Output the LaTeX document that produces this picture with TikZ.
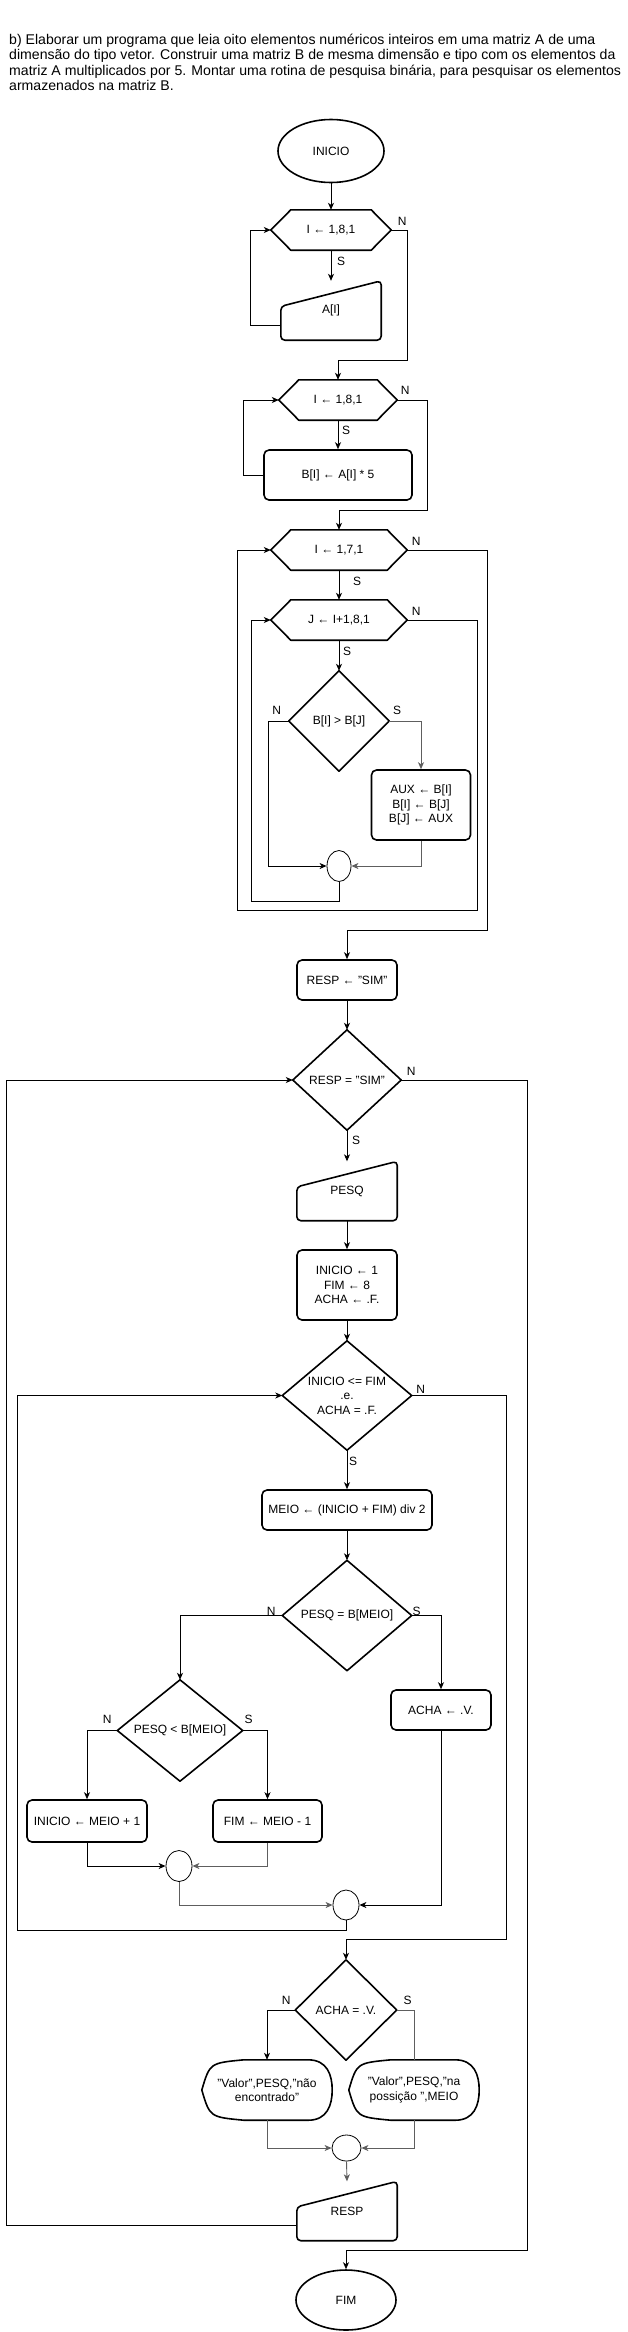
\documentclass[tikz,border=0pt]{standalone}
\usepackage{fontspec}
\setmainfont{Liberation Sans}
\usetikzlibrary{shapes.geometric,arrows.meta,calc}
\definecolor{linkgray}{HTML}{5E5E5E}
\tikzset{
  shapeline/.style={line width=1.6pt, line join=round},
  link/.style={line width=0.9pt, -{Stealth[length=7pt,width=6pt,inset=2pt]}},
  plain/.style={line width=0.9pt},
  cinza/.style={draw=linkgray},
  proc/.style={draw, shapeline, rounded corners=5pt, minimum width=100, minimum height=40, inner sep=2pt, align=center},
  hexa/.style={minimum height=40, inner sep=0pt},
  manual/.style={minimum width=100, minimum height=59, inner sep=0pt},
  tela/.style={minimum width=130, minimum height=60, inner sep=0pt, align=center},
  decisao/.style={inner sep=0pt, align=center},
  terminal/.style={draw, shapeline, ellipse, minimum width=100, minimum height=60, inner sep=0pt},
  juncao/.style={draw, line width=0.8pt, ellipse, minimum width=24, minimum height=31, inner sep=0pt},
  lbl/.style={inner sep=0pt}
}
\begin{document}
\begin{tikzpicture}[x=1pt, y=-1pt, font=\fontsize{12}{14.5}\selectfont]
\path[use as bounding box, fill=white] (0,0) rectangle (628,2332);
% enunciado
\node[anchor=north west, inner sep=0pt, align=left, font=\fontsize{14.1}{15.4}\selectfont] (enunciado) at (9,34)
  {b) Elaborar um programa que leia oito elementos numéricos inteiros em uma matriz A de uma\\
   dimensão do tipo vetor. Construir uma matriz B de mesma dimensão e tipo com os elementos da\\
   matriz A multiplicados por 5. Montar uma rotina de pesquisa binária, para pesquisar os elementos\\
   armazenados na matriz B.};

% leitura de A e calculo de B
\node[terminal, minimum width=106, minimum height=63] (inicio) at (331,151) {INICIO};
\node[hexa, minimum width=120] (laco1) at (331,230) {I ← 1,8,1};
\node[manual] (lerA) at (331,310.5) {A[I]};
\node[hexa, minimum width=118] (laco2) at (338,400) {I ← 1,8,1};
\node[proc, minimum width=148, minimum height=50] (calcB) at (338,475) {B[I] ← A[I] * 5};

% ordenacao
\node[hexa, minimum width=136] (laco3) at (339,550) {I ← 1,7,1};
\node[hexa, minimum width=136] (laco4) at (339,620) {J ← I+1,8,1};
\node[decisao, minimum width=100, minimum height=100] (compara) at (339,721) {B[I] > B[J]};
\node[proc, minimum width=99, minimum height=70] (troca) at (421,805) {AUX ← B[I]\\B[I] ← B[J]\\B[J] ← AUX};
\node[juncao] (junta1) at (339,866) {};

% pesquisa binaria
\node[proc] (atribResp) at (347,980) {RESP ← "SIM"};
\node[decisao, minimum width=108, minimum height=100] (testaResp) at (347,1080) {RESP = "SIM"};
\node[manual] (lerPesq) at (347,1191) {PESQ};
\node[proc, minimum height=70] (inicia) at (347,1285) {INICIO ← 1\\FIM ← 8\\ACHA ← .F.};
\node[decisao, minimum width=129, minimum height=109] (testaBusca) at (347,1395.5) {INICIO <= FIM\\.e.\\ACHA = .F.};
\node[proc, minimum width=170] (meio) at (347,1510) {MEIO ← (INICIO + FIM) div 2};
\node[decisao, minimum width=129, minimum height=110] (testaIgual) at (347,1615.5) {PESQ = B[MEIO]};
\node[decisao, minimum width=125, minimum height=101] (testaMenor) at (180,1730.5) {PESQ < B[MEIO]};
\node[proc] (achaV) at (441,1710) {ACHA ← .V.};
\node[proc, minimum width=120, minimum height=42] (novoInicio) at (87,1821) {INICIO ← MEIO + 1};
\node[proc, minimum width=109, minimum height=42] (novoFim) at (267.5,1821) {FIM ← MEIO - 1};
\node[juncao, minimum width=26] (junta2) at (179,1866) {};
\node[juncao, minimum width=26, minimum height=30] (junta3) at (346,1905) {};
\node[decisao, minimum width=101, minimum height=100] (testaAcha) at (346,2010) {ACHA = .V.};
\node[tela] (msgNao) at (267,2090) {"Valor",PESQ,"não\\encontrado"};
\node[tela] (msgSim) at (414,2090) {"Valor",PESQ,"na\\possição ",MEIO};
\node[juncao, minimum width=29, minimum height=26] (junta4) at (346.5,2148) {};
\node[manual] (mostraResp) at (347,2211) {RESP};
\node[terminal] (fim) at (346,2300) {FIM};

% contornos
\foreach \n in {laco1,laco2,laco3,laco4}
  \draw[shapeline] (\n.west) -- ([xshift=20pt]\n.north west) -- ([xshift=-20pt]\n.north east) -- (\n.east)
    -- ([xshift=-20pt]\n.south east) -- ([xshift=20pt]\n.south west) -- cycle;
\foreach \n in {compara,testaResp,testaBusca,testaIgual,testaMenor,testaAcha}
  \draw[shapeline] (\n.north) -- (\n.east) -- (\n.south) -- (\n.west) -- cycle;
\foreach \n in {lerA,lerPesq,mostraResp}
  \draw[shapeline, rounded corners=4pt] (\n.south west) -- ($(\n.north west)!0.43!(\n.south west)$)
    -- (\n.north east) -- (\n.south east) -- cycle;
\foreach \n in {msgNao,msgSim}
  \draw[shapeline] (\n.west) .. controls ([shift={(8,-27)}]\n.west) .. ([xshift=42pt]\n.north west)
    -- ([xshift=-24pt]\n.north east) .. controls ([xshift=-5pt]\n.north east) and ([shift={(0,-15)}]\n.east) .. (\n.east)
    .. controls ([shift={(0,15)}]\n.east) and ([xshift=-5pt]\n.south east) .. ([xshift=-24pt]\n.south east)
    -- ([xshift=42pt]\n.south west) .. controls ([shift={(8,27)}]\n.west) .. (\n.west) -- cycle;

% ligacoes
\draw[link] (inicio.south) -- (laco1.north);
\draw[link] (laco1.south) -- (lerA.north);
\draw[link] ($(lerA.west)!0.5!(lerA.south west)$) -- ++(-30,0) |- (laco1.west);
\draw[link] (laco1.east) -- ++(16,0) -- ++(0,130) -| (laco2.north);
\draw[link] (laco2.south) -- (calcB.north);
\draw[link] (calcB.west) -- ++(-20,0) |- (laco2.west);
\draw[link] (laco2.east) -- ++(30,0) -- ++(0,110) -| (laco3.north);
\draw[link] (laco3.south) -- (laco4.north);
\draw[link] (laco4.south) -- (compara.north);
\draw[link] (compara.west) -- ++(-20,0) |- (junta1.west);
\draw[link,cinza] (compara.east) -| (troca.north);
\draw[link,cinza] (troca.south) |- (junta1.east);
\draw[link] (junta1.south) -- ++(0,20) -- ++(-88,0) |- (laco4.west);
\draw[link] (laco4.east) -- ++(70,0) -- ++(0,290) -- ++(-240,0) |- (laco3.west);
\draw[link] (laco3.east) -- ++(80,0) -- ++(0,380) -| (atribResp.north);
\draw[link] (atribResp.south) -- (testaResp.north);
\draw[link] (testaResp.south) -- (lerPesq.north);
\draw[link] (lerPesq.south) -- (inicia.north);
\draw[link] (inicia.south) -- (testaBusca.north);
\draw[link] (testaBusca.south) -- (meio.north);
\draw[link] (meio.south) -- (testaIgual.north);
\draw[link] (testaIgual.west) -| (testaMenor.north);
\draw[link] (testaIgual.east) -| (achaV.north);
\draw[link] (testaMenor.west) -| (novoInicio.north);
\draw[link] (testaMenor.east) -| (novoFim.north);
\draw[link] (novoInicio.south) |- (junta2.west);
\draw[link,cinza] (novoFim.south) |- (junta2.east);
\draw[link,cinza] (junta2.south) |- (junta3.west);
\draw[link] (achaV.south) |- (junta3.east);
\draw[link] (junta3.south) -- ++(0,10) -- ++(-329,0) |- (testaBusca.west);
\draw[link] (testaBusca.east) -- ++(95,0) -- ++(0,544) -| (testaAcha.north);
\draw[link] (testaAcha.west) -| (msgNao.north);
\draw[plain,cinza] (testaAcha.east) -| (msgSim.north);
\draw[link,cinza] (msgNao.south) |- (junta4.west);
\draw[link,cinza] (msgSim.south) |- (junta4.east);
\draw[link,cinza] (junta4.south) -- (mostraResp.north);
\draw[link] ($(mostraResp.west)!0.5!(mostraResp.south west)$) -- ++(-290,0) |- (testaResp.west);
\draw[link] (testaResp.east) -- ++(126,0) -- ++(0,1170) -| (fim.north);

% rotulos S / N
\node[lbl] (n1) at ([shift={(11,-9)}]laco1.east) {N};
\node[lbl] (s1) at ([shift={(10,11)}]laco1.south) {S};
\node[lbl] (n2) at ([shift={(8,-10)}]laco2.east) {N};
\node[lbl] (s2) at ([shift={(8,10)}]laco2.south) {S};
\node[lbl] (n3) at ([shift={(9,-9)}]laco3.east) {N};
\node[lbl] (s3) at ([shift={(18,11)}]laco3.south) {S};
\node[lbl] (n4) at ([shift={(9,-9)}]laco4.east) {N};
\node[lbl] (s4) at ([shift={(8,11)}]laco4.south) {S};
\node[lbl] (n5) at ([shift={(-12,-11)}]compara.west) {N};
\node[lbl] (s5) at ([shift={(8,-11)}]compara.east) {S};
\node[lbl] (n6) at ([shift={(10,-9)}]testaResp.east) {N};
\node[lbl] (s6) at ([shift={(9,10)}]testaResp.south) {S};
\node[lbl] (n7) at ([shift={(9,-6)}]testaBusca.east) {N};
\node[lbl] (s7) at ([shift={(6,11)}]testaBusca.south) {S};
\node[lbl] (n8) at ([shift={(-11,-4)}]testaIgual.west) {N};
\node[lbl] (s8) at ([shift={(5,-4)}]testaIgual.east) {S};
\node[lbl] (n9) at ([shift={(-10,-11)}]testaMenor.west) {N};
\node[lbl] (s9) at ([shift={(6,-11)}]testaMenor.east) {S};
\node[lbl] (n10) at ([shift={(-9,-10)}]testaAcha.west) {N};
\node[lbl] (s10) at ([shift={(11,-10)}]testaAcha.east) {S};
\end{tikzpicture}
\end{document}
